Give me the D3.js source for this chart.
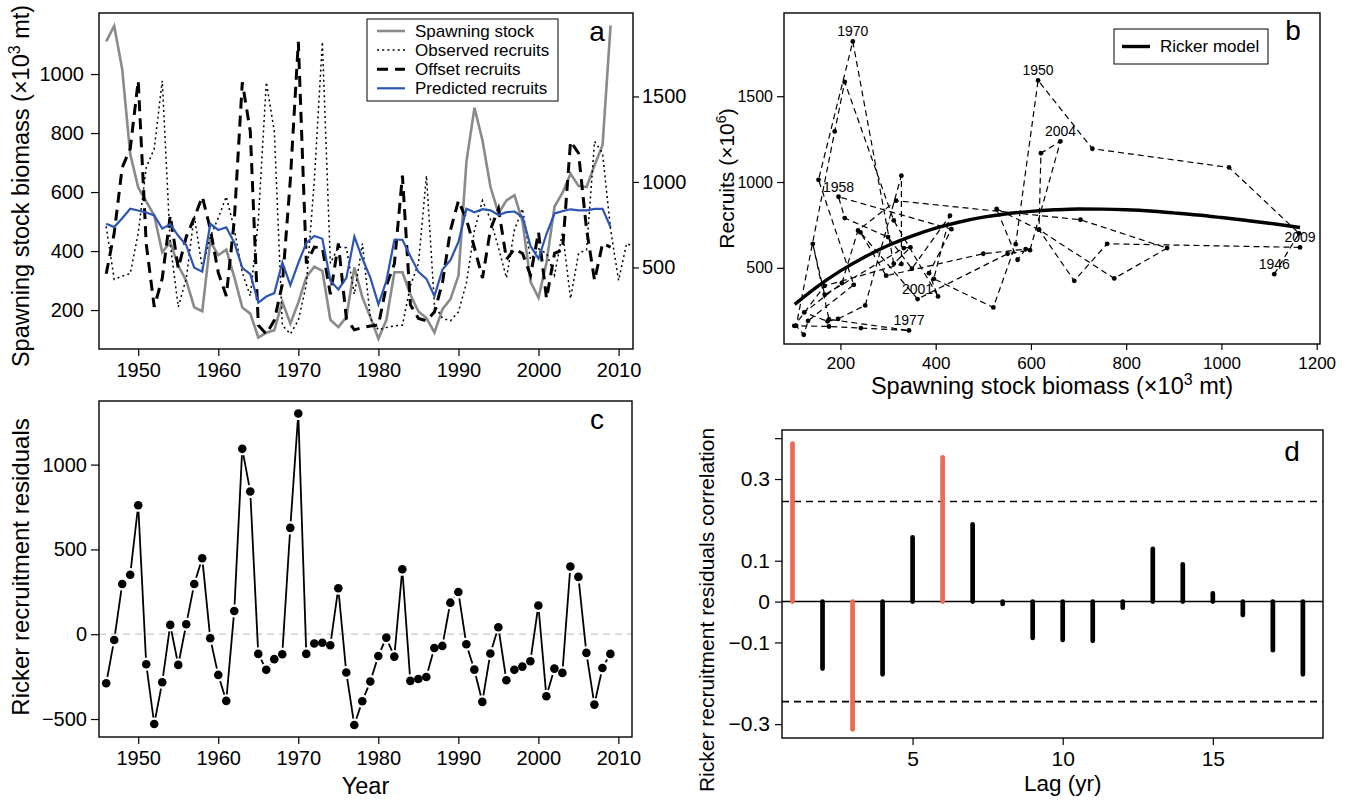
<!DOCTYPE html>
<html>
<head>
<meta charset="utf-8">
<script src="https://cdn.jsdelivr.net/npm/d3@7"></script>
<style>
  body { margin: 0; background: #fff; }
  text { font-family: "Liberation Sans", Arial, Helvetica, sans-serif; fill: #000; }
</style>
</head>
<body>
<div id="chart"></div>
<script>
// ---- data ----
var years = d3.range(1946, 2010);
var recruitYears = d3.range(1946, 2013);

// spawning stock biomass (x10^3 mt)
var spawningStock = [1111, 1163, 1016, 729, 615, 568, 521, 396, 430, 350,
  300, 209, 196, 433, 386, 405, 312, 209, 188, 107,
  123, 132, 228, 154, 226, 312, 347, 333, 167, 142,
  176, 344, 243, 176, 103, 167, 328, 328, 252, 195,
  173, 124, 203, 237, 317, 704, 886, 775, 617, 528,
  572, 589, 500, 296, 242, 362, 551, 598, 662, 621,
  617, 691, 760, 1165];

// observed recruits (x10^6), 1946-2012
var observedRecruits = [740, 430, 450,
  463, 701, 1085, 1194, 1592, 638, 269, 436, 804, 495,
  679, 790, 914, 725, 469, 333, 776, 1583, 1295, 162,
  110, 191, 401, 1013, 1819, 524, 619, 615, 343, 640,
  200, 135, 149, 158, 162, 395, 522, 1037, 281, 202,
  188, 240, 411, 718, 891, 780, 615, 438, 722, 843,
  547, 609, 582, 454, 706, 318, 582, 603, 1237, 1168,
  722, 424, 640, 619];

// recruits offset by age at recruitment, 1946-2009
var offsetRecruits = [463, 701, 1085, 1194, 1592, 638, 269, 436, 804, 495,
  679, 790, 914, 725, 469, 333, 776, 1583, 1295, 162,
  110, 191, 401, 1013, 1819, 524, 619, 615, 343, 640,
  200, 135, 149, 158, 162, 395, 522, 1037, 281, 202,
  188, 240, 411, 718, 891, 780, 615, 438, 722, 843,
  547, 609, 582, 454, 706, 318, 582, 603, 1237, 1168,
  722, 424, 640, 619];

var predictedRecruits = [755, 736, 788, 843, 833, 821, 804, 727, 753, 685,
  630, 498, 475, 755, 719, 735, 645, 498, 461, 294,
  330, 350, 529, 396, 526, 644, 684, 668, 422, 371,
  439, 680, 552, 439, 284, 422, 662, 662, 565, 474,
  433, 332, 488, 543, 650, 843, 823, 841, 834, 807,
  823, 827, 795, 625, 551, 697, 816, 829, 840, 834,
  834, 842, 843, 735];

var residuals = [-289, -34, 296, 351, 760, -177, -529, -283, 55, -181,
  59, 296, 448, -24, -240, -393, 137, 1093, 841, -116,
  -210, -147, -118, 627, 1301, -116, -55, -50, -65, 271,
  -226, -535, -395, -279, -128, -20, -132, 383, -275, -264,
  -252, -81, -69, 186, 249, -59, -209, -399, -114, 41,
  -271, -210, -191, -159, 169, -366, -203, -228, 399, 338,
  -110, -415, -199, -116];

// Ricker curve, sampled off panel b
var rickerStock = [104, 150, 200, 250, 300, 350, 400, 450, 500, 550, 600, 650, 700, 750, 800, 850, 900, 950, 1000, 1050, 1100, 1165];
var rickerRecruits = [287, 388, 482, 562, 630, 685, 731, 767, 795, 815, 829, 838, 843, 842, 838, 831, 820, 808, 793, 777, 760, 735];

var labelYears = [1946, 1950, 1958, 1970, 1977, 2001, 2004, 2009];

var lags = d3.range(1, 19);
var acfValues = [0.387, -0.164, -0.313, -0.178, 0.157, 0.353, 0.189, -0.006, -0.089,
  -0.094, -0.096, -0.015, 0.129, 0.091, 0.020, -0.033, -0.119, -0.178];
var significantLags = [1, 3, 6];
var confLimit = 0.245;

var yearTicks = [1950, 1960, 1970, 1980, 1990, 2000, 2010];
var stockTicks = [200, 400, 600, 800, 1000];
var recruitTicksA = [500, 1000, 1500];
var stockTicksB = [200, 400, 600, 800, 1000, 1200];
var recruitTicksB = [500, 1000, 1500];
var residualTicks = [-500, 0, 500, 1000];
var lagTicks = [5, 10, 15];
var acfTicks = [0.4, 0.3, 0.1, 0, -0.1, -0.3];

var legendA = [
  { name: 'Spawning stock', color: '#8a8a8a', width: 2.6, dash: null },
  { name: 'Observed recruits', color: '#000', width: 1.5, dash: '2,3.2' },
  { name: 'Offset recruits', color: '#000', width: 3, dash: '11,7' },
  { name: 'Predicted recruits', color: '#2d55b4', width: 2.2, dash: null }
];

// ---- helpers ----
var svg = d3.select('#chart').append('svg')
  .attr('width', 1349).attr('height', 800);
var defs = svg.append('defs');

var intFmt = d3.format('d');
function minusFmt(d) { return d < 0 ? '\u2212' + Math.abs(d) : String(d); }

function styleAxis(g, size) {
  g.attr('font-family', null).attr('font-size', null);
  g.select('.domain').remove();
  g.selectAll('.tick line').attr('stroke', '#000').attr('stroke-width', 1.2);
  g.selectAll('.tick text').style('font-size', size + 'px').attr('fill', '#000');
}

function frame(b, id) {
  defs.append('clipPath').attr('id', id).append('rect')
    .attr('x', b.l).attr('y', b.t).attr('width', b.r - b.l).attr('height', b.b - b.t);
}

function drawBox(b) {
  svg.append('rect').attr('x', b.l).attr('y', b.t)
    .attr('width', b.r - b.l).attr('height', b.b - b.t)
    .attr('fill', 'none').attr('stroke', '#000').attr('stroke-width', 1.4);
}

function addParts(t, size, parts) {
  parts.forEach(function(p) {
    if (p.sup) t.append('tspan').attr('dy', -size * 0.38).style('font-size', (size * 0.68) + 'px').text(p.sup);
    else if (p.after) t.append('tspan').attr('dy', size * 0.38).text(p.after);
    else t.append('tspan').text(p.text);
  });
}

function vTitle(x, y, size, parts) {
  var t = svg.append('text').attr('transform', 'translate(' + x + ',' + y + ') rotate(-90)')
    .attr('text-anchor', 'middle').style('font-size', size + 'px');
  addParts(t, size, parts);
}

function hTitle(x, y, size, parts) {
  var t = svg.append('text').attr('x', x).attr('y', y)
    .attr('text-anchor', 'middle').style('font-size', size + 'px');
  addParts(t, size, parts);
}

// ================= panel a =================
var ba = { l: 99, r: 633, t: 13, b: 349 };
frame(ba, 'clipA');
var xA = d3.scaleLinear().domain([1945.1, 2011.8]).range([ba.l, ba.r]);
var yAL = d3.scaleLinear().domain([68, 1207]).range([ba.b, ba.t]);
var yAR = d3.scaleLinear().domain([23, 1988]).range([ba.b, ba.t]);

var gA = svg.append('g').attr('clip-path', 'url(#clipA)');
var lineStock = d3.line().x(function(d, i) { return xA(years[i]); }).y(function(d) { return yAL(d); });
var lineRec = d3.line().x(function(d) { return xA(d[0]); }).y(function(d) { return yAR(d[1]); });

gA.append('path').datum(spawningStock).attr('d', lineStock)
  .attr('fill', 'none').attr('stroke', legendA[0].color).attr('stroke-width', legendA[0].width);
gA.append('path').datum(recruitYears.map(function(y, i) { return [y, observedRecruits[i]]; })).attr('d', lineRec)
  .attr('fill', 'none').attr('stroke', '#000').attr('stroke-width', legendA[1].width).attr('stroke-dasharray', legendA[1].dash);
gA.append('path').datum(years.map(function(y, i) { return [y, offsetRecruits[i]]; })).attr('d', lineRec)
  .attr('fill', 'none').attr('stroke', '#000').attr('stroke-width', legendA[2].width).attr('stroke-dasharray', legendA[2].dash);
gA.append('path').datum(years.map(function(y, i) { return [y, predictedRecruits[i]]; })).attr('d', lineRec)
  .attr('fill', 'none').attr('stroke', legendA[3].color).attr('stroke-width', legendA[3].width);

svg.append('g').attr('transform', 'translate(0,' + ba.b + ')')
  .call(d3.axisBottom(xA).tickValues(yearTicks).tickFormat(intFmt).tickSize(7).tickPadding(7))
  .call(styleAxis, 20);
svg.append('g').attr('transform', 'translate(' + ba.l + ',0)')
  .call(d3.axisLeft(yAL).tickValues(stockTicks).tickFormat(intFmt).tickSize(8).tickPadding(7))
  .call(styleAxis, 20);
svg.append('g').attr('transform', 'translate(' + ba.r + ',0)')
  .call(d3.axisRight(yAR).tickValues(recruitTicksA).tickFormat(intFmt).tickSize(6).tickPadding(3))
  .call(styleAxis, 20);
drawBox(ba);

// legend a
var lg = svg.append('g');
lg.append('rect').attr('x', 367).attr('y', 19).attr('width', 191).attr('height', 82)
  .attr('fill', '#fff').attr('stroke', '#000').attr('stroke-width', 1);
legendA.forEach(function(s, i) {
  var yy = 31 + i * 19.1;
  lg.append('line').attr('x1', 377).attr('x2', 405).attr('y1', yy).attr('y2', yy)
    .attr('stroke', s.color).attr('stroke-width', s.width).attr('stroke-dasharray', s.dash);
  lg.append('text').attr('x', 415).attr('y', yy).attr('dy', '0.35em')
    .style('font-size', '17px').text(s.name);
});
svg.append('text').attr('x', 597).attr('y', 41).attr('text-anchor', 'middle')
  .style('font-size', '28px').text('a');
vTitle(29, 186, 23.5, [{ text: 'Spawning stock biomass (\u00d710' }, { sup: '3' }, { after: ' mt)' }]);

// ================= panel b =================
var bb = { l: 784, r: 1320, t: 13, b: 344 };
frame(bb, 'clipB');
var xB = d3.scaleLinear().domain([81.5, 1207]).range([bb.l, bb.r]);
var yB = d3.scaleLinear().domain([56, 1985]).range([bb.b, bb.t]);
var gB = svg.append('g').attr('clip-path', 'url(#clipB)');
var pairs = years.map(function(y, i) { return { year: y, s: spawningStock[i], r: offsetRecruits[i] }; });

gB.append('path').datum(pairs)
  .attr('d', d3.line().x(function(d) { return xB(d.s); }).y(function(d) { return yB(d.r); }))
  .attr('fill', 'none').attr('stroke', '#000').attr('stroke-width', 1.2).attr('stroke-dasharray', '6,4');
gB.selectAll('circle').data(pairs).enter().append('circle')
  .attr('cx', function(d) { return xB(d.s); }).attr('cy', function(d) { return yB(d.r); })
  .attr('r', 2.4).attr('fill', '#000');
gB.append('path').datum(rickerStock.map(function(s, i) { return [s, rickerRecruits[i]]; }))
  .attr('d', d3.line().curve(d3.curveMonotoneX).x(function(d) { return xB(d[0]); }).y(function(d) { return yB(d[1]); }))
  .attr('fill', 'none').attr('stroke', '#000').attr('stroke-width', 3.4);
gB.selectAll('text.yr').data(pairs.filter(function(d) { return labelYears.indexOf(d.year) >= 0; }))
  .enter().append('text').attr('class', 'yr')
  .attr('x', function(d) { return xB(d.s); }).attr('y', function(d) { return yB(d.r) - 10; })
  .attr('dy', '0.35em').attr('text-anchor', 'middle').style('font-size', '14px')
  .text(function(d) { return d.year; });

svg.append('g').attr('transform', 'translate(0,' + bb.b + ')')
  .call(d3.axisBottom(xB).tickValues(stockTicksB).tickFormat(intFmt).tickSize(6).tickPadding(7))
  .call(styleAxis, 17);
svg.append('g').attr('transform', 'translate(' + bb.l + ',0)')
  .call(d3.axisLeft(yB).tickValues(recruitTicksB).tickFormat(intFmt).tickSize(7).tickPadding(4))
  .call(styleAxis, 16);
drawBox(bb);

svg.append('rect').attr('x', 1114).attr('y', 29).attr('width', 154).attr('height', 35)
  .attr('fill', '#fff').attr('stroke', '#000').attr('stroke-width', 1);
svg.append('line').attr('x1', 1122).attr('x2', 1150).attr('y1', 46.5).attr('y2', 46.5)
  .attr('stroke', '#000').attr('stroke-width', 3.4);
svg.append('text').attr('x', 1160).attr('y', 46.5).attr('dy', '0.35em')
  .style('font-size', '17px').text('Ricker model');
svg.append('text').attr('x', 1293).attr('y', 40).attr('text-anchor', 'middle')
  .style('font-size', '28px').text('b');
hTitle((bb.l + bb.r) / 2, 394, 23.5, [{ text: 'Spawning stock biomass (\u00d710' }, { sup: '3' }, { after: ' mt)' }]);
vTitle(734, (bb.t + bb.b) / 2, 21, [{ text: 'Recruits (\u00d710' }, { sup: '6' }, { after: ')' }]);

// ================= panel c =================
var bc = { l: 99, r: 632, t: 401, b: 737 };
frame(bc, 'clipC');
var xC = d3.scaleLinear().domain([1945.1, 2011.7]).range([bc.l, bc.r]);
var yC = d3.scaleLinear().domain([-606, 1375]).range([bc.b, bc.t]);
var gC = svg.append('g').attr('clip-path', 'url(#clipC)');
gC.append('line').attr('x1', bc.l).attr('x2', bc.r).attr('y1', yC(0)).attr('y2', yC(0))
  .attr('stroke', '#c8c8c8').attr('stroke-width', 1.2).attr('stroke-dasharray', '7,5');

var ptsC = years.map(function(y, i) { return [xC(y), yC(residuals[i])]; });
var gap = 6.5;
for (var i = 0; i < ptsC.length - 1; i++) {
  var p0 = ptsC[i], p1 = ptsC[i + 1];
  var dx = p1[0] - p0[0], dy = p1[1] - p0[1], len = Math.sqrt(dx * dx + dy * dy);
  if (len <= 2 * gap) continue;
  var ux = dx / len, uy = dy / len;
  gC.append('line')
    .attr('x1', p0[0] + ux * gap).attr('y1', p0[1] + uy * gap)
    .attr('x2', p1[0] - ux * gap).attr('y2', p1[1] - uy * gap)
    .attr('stroke', '#000').attr('stroke-width', 1.8);
}
gC.selectAll('circle').data(ptsC).enter().append('circle')
  .attr('cx', function(d) { return d[0]; }).attr('cy', function(d) { return d[1]; })
  .attr('r', 4.3).attr('fill', '#000');

svg.append('g').attr('transform', 'translate(0,' + bc.b + ')')
  .call(d3.axisBottom(xC).tickValues(yearTicks).tickFormat(intFmt).tickSize(7).tickPadding(7))
  .call(styleAxis, 20);
svg.append('g').attr('transform', 'translate(' + bc.l + ',0)')
  .call(d3.axisLeft(yC).tickValues(residualTicks).tickFormat(minusFmt).tickSize(8).tickPadding(4))
  .call(styleAxis, 20);
drawBox(bc);
svg.append('text').attr('x', 597).attr('y', 429).attr('text-anchor', 'middle')
  .style('font-size', '28px').text('c');
hTitle((bc.l + bc.r) / 2, 794, 23.5, [{ text: 'Year' }]);
vTitle(29, 567, 24, [{ text: 'Ricker recruitment residuals' }]);

// ================= panel d =================
var bd = { l: 782, r: 1323, t: 430, b: 738 };
var xD = d3.scaleLinear().domain([0.65, 18.67]).range([bd.l, bd.r]);
var yD = d3.scaleLinear().domain([-0.334, 0.42]).range([bd.b, bd.t]);

svg.append('line').attr('x1', bd.l).attr('x2', bd.r).attr('y1', yD(0)).attr('y2', yD(0))
  .attr('stroke', '#000').attr('stroke-width', 1.5);
[confLimit, -confLimit].forEach(function(c) {
  svg.append('line').attr('x1', bd.l).attr('x2', bd.r).attr('y1', yD(c)).attr('y2', yD(c))
    .attr('stroke', '#000').attr('stroke-width', 1.6).attr('stroke-dasharray', '7,5');
});
svg.selectAll('line.acf').data(lags).enter().append('line').attr('class', 'acf')
  .attr('x1', function(d) { return xD(d); }).attr('x2', function(d) { return xD(d); })
  .attr('y1', yD(0))
  .attr('y2', function(d, i) { return yD(acfValues[i]); })
  .attr('stroke', function(d) { return significantLags.indexOf(d) >= 0 ? '#ec6a4f' : '#000'; })
  .attr('stroke-width', 4.7).attr('stroke-linecap', 'round');

svg.append('g').attr('transform', 'translate(0,' + bd.b + ')')
  .call(d3.axisBottom(xD).tickValues(lagTicks).tickSize(7).tickPadding(6))
  .call(styleAxis, 21);
svg.append('g').attr('transform', 'translate(' + bd.l + ',0)')
  .call(d3.axisLeft(yD).tickValues(acfTicks)
    .tickFormat(function(d) { return d === 0.4 ? '' : (d === 0 ? '0' : minusFmt(d)); })
    .tickSize(7).tickPadding(5))
  .call(styleAxis, 21);
drawBox(bd);
svg.append('text').attr('x', 1292).attr('y', 461).attr('text-anchor', 'middle')
  .style('font-size', '28px').text('d');
hTitle(xD(10), 791, 22.5, [{ text: 'Lag (yr)' }]);
vTitle(714, 610, 21, [{ text: 'Ricker recruitment residuals correlation' }]);
</script>
</body>
</html>
